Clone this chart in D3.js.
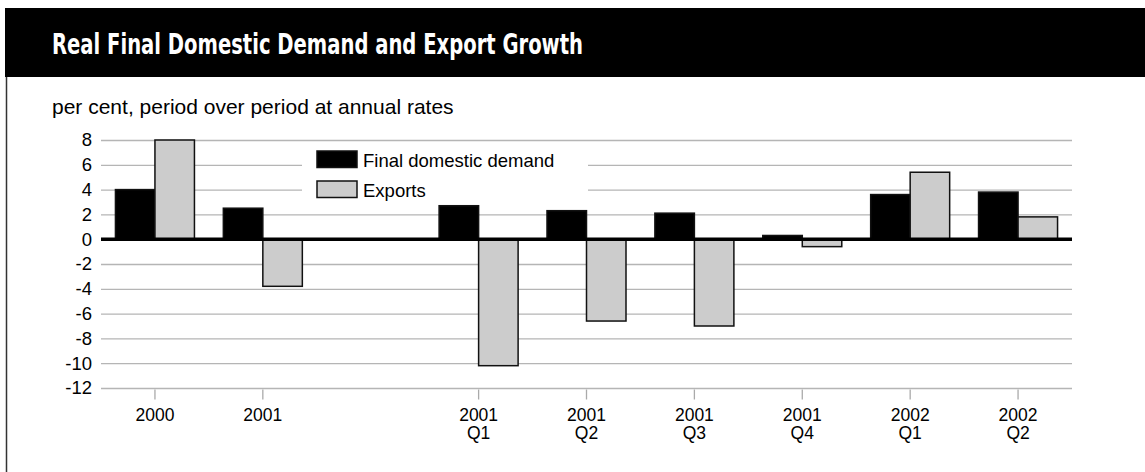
<!DOCTYPE html>
<html>
<head>
<meta charset="utf-8">
<script src="https://cdn.jsdelivr.net/npm/d3@7"></script>
<style>
  body { margin: 0; background: #fff; }
  svg { display: block; }
  .axis text { font-family: "Liberation Sans", Arial, sans-serif; font-size: 18.5px; fill: #000; }
  .x-axis text { font-size: 17.5px; }
</style>
</head>
<body>
<script>
// data
var periods = ['2000', '2001', '2001 Q1', '2001 Q2', '2001 Q3', '2001 Q4', '2002 Q1', '2002 Q2'];
var domesticDemand = [4.0, 2.5, 2.7, 2.3, 2.1, 0.3, 3.6, 3.8];
var exportGrowth = [8.0, -3.8, -10.2, -6.6, -7.0, -0.6, 5.4, 1.8];
var seriesNames = ['Final domestic demand', 'Exports'];
var yTicks = [8, 6, 4, 2, 0, -2, -4, -6, -8, -10, -12];

var w = 1145, h = 472;
var plotLeft = 101, plotRight = 1072, plotTop = 140, plotBottom = 388;

var rows = periods.map(function(p, i) {
  return { period: p, values: [domesticDemand[i], exportGrowth[i]] };
});

// a blank slot sits between annual and quarterly groups
var slots = periods.slice(0, 2).concat(['gap']).concat(periods.slice(2));

var x = d3.scaleBand().domain(slots).range([plotLeft, plotRight]).padding(0);
var pairW = 79;
var x1 = d3.scaleBand().domain([0, 1]).range([0, pairW]).padding(0);
var y = d3.scaleLinear().domain([-12, 8]).range([plotBottom, plotTop]);

var fills = ['#000', '#cccccc'];

var svg = d3.select('body').append('svg')
  .attr('width', w)
  .attr('height', h);

// title bar
svg.append('rect')
  .attr('x', 5).attr('y', 8)
  .attr('width', w - 5).attr('height', 69)
  .attr('fill', '#000');
svg.append('text')
  .attr('x', 52).attr('y', 54)
  .attr('fill', '#fff')
  .attr('textLength', 531)
  .attr('lengthAdjust', 'spacingAndGlyphs')
  .style('font-family', '"Liberation Sans Narrow", "DejaVu Sans Condensed", sans-serif')
  .style('font-weight', 'bold')
  .style('font-size', '29px')
  .text('Real Final Domestic Demand and Export Growth');

// left frame line
svg.append('line')
  .attr('x1', 6.5).attr('x2', 6.5)
  .attr('y1', 77).attr('y2', h)
  .attr('stroke', '#333').attr('stroke-width', 1.5);

svg.append('text')
  .attr('x', 52).attr('y', 114)
  .style('font-family', '"Liberation Sans", Arial, sans-serif')
  .style('font-size', '21px')
  .text('per cent, period over period at annual rates');

// y axis with gridlines
var yAxis = d3.axisLeft(y)
  .tickValues(yTicks)
  .tickSize(-(plotRight - plotLeft))
  .tickPadding(9)
  .tickFormat(d3.format('d'));

var gy = svg.append('g')
  .attr('class', 'axis')
  .attr('transform', 'translate(' + plotLeft + ',0)')
  .call(yAxis);
gy.select('.domain').remove();
gy.selectAll('.tick line').attr('stroke', '#b5b5b5').attr('stroke-width', 1.3);
gy.selectAll('.tick text').text(function(d) { return d < 0 ? '-' + Math.abs(d) : d; });

// legend box hides the gridlines behind it
svg.append('rect')
  .attr('x', 302).attr('y', 148)
  .attr('width', 286).attr('height', 54)
  .attr('fill', '#fff');

// bars
var groups = svg.append('g').selectAll('g')
  .data(rows)
  .enter().append('g')
  .attr('transform', function(d) {
    return 'translate(' + (x(d.period) + (x.bandwidth() - pairW) / 2) + ',0)';
  });

groups.selectAll('rect')
  .data(function(d) { return d.values; })
  .enter().append('rect')
  .attr('x', function(d, i) { return x1(i); })
  .attr('y', function(d) { return y(Math.max(0, d)); })
  .attr('width', x1.bandwidth())
  .attr('height', function(d) { return Math.abs(y(d) - y(0)); })
  .attr('fill', function(d, i) { return fills[i]; })
  .attr('stroke', '#111')
  .attr('stroke-width', 1.5);

// zero line
svg.append('line')
  .attr('x1', plotLeft).attr('x2', plotRight)
  .attr('y1', y(0)).attr('y2', y(0))
  .attr('stroke', '#000').attr('stroke-width', 3.5);

// x axis
var xAxis = d3.axisBottom(x)
  .tickValues(periods)
  .tickSize(10)
  .tickPadding(0);

var gx = svg.append('g')
  .attr('class', 'axis x-axis')
  .attr('transform', 'translate(0,' + (plotBottom + 1.5) + ')')
  .call(xAxis);
gx.select('.domain').remove();
gx.selectAll('.tick line').attr('stroke', '#aaa').attr('stroke-width', 1.3);
gx.selectAll('.tick text').each(function(d) {
  var t = d3.select(this).text('').attr('y', 0).attr('dy', null);
  d.split(' ').forEach(function(part, i) {
    t.append('tspan').attr('x', 0).attr('y', 31 + i * 18.5).text(part);
  });
});

// legend
var legend = svg.append('g');
seriesNames.forEach(function(name, i) {
  legend.append('rect')
    .attr('x', 317).attr('y', 151 + i * 30)
    .attr('width', 40).attr('height', 16.5)
    .attr('fill', fills[i])
    .attr('stroke', '#111').attr('stroke-width', 1.5);
  legend.append('text')
    .attr('x', 363).attr('y', 166.5 + i * 30)
    .style('font-family', '"Liberation Sans", Arial, sans-serif')
    .style('font-size', '18.5px')
    .text(name);
});
</script>
</body>
</html>
